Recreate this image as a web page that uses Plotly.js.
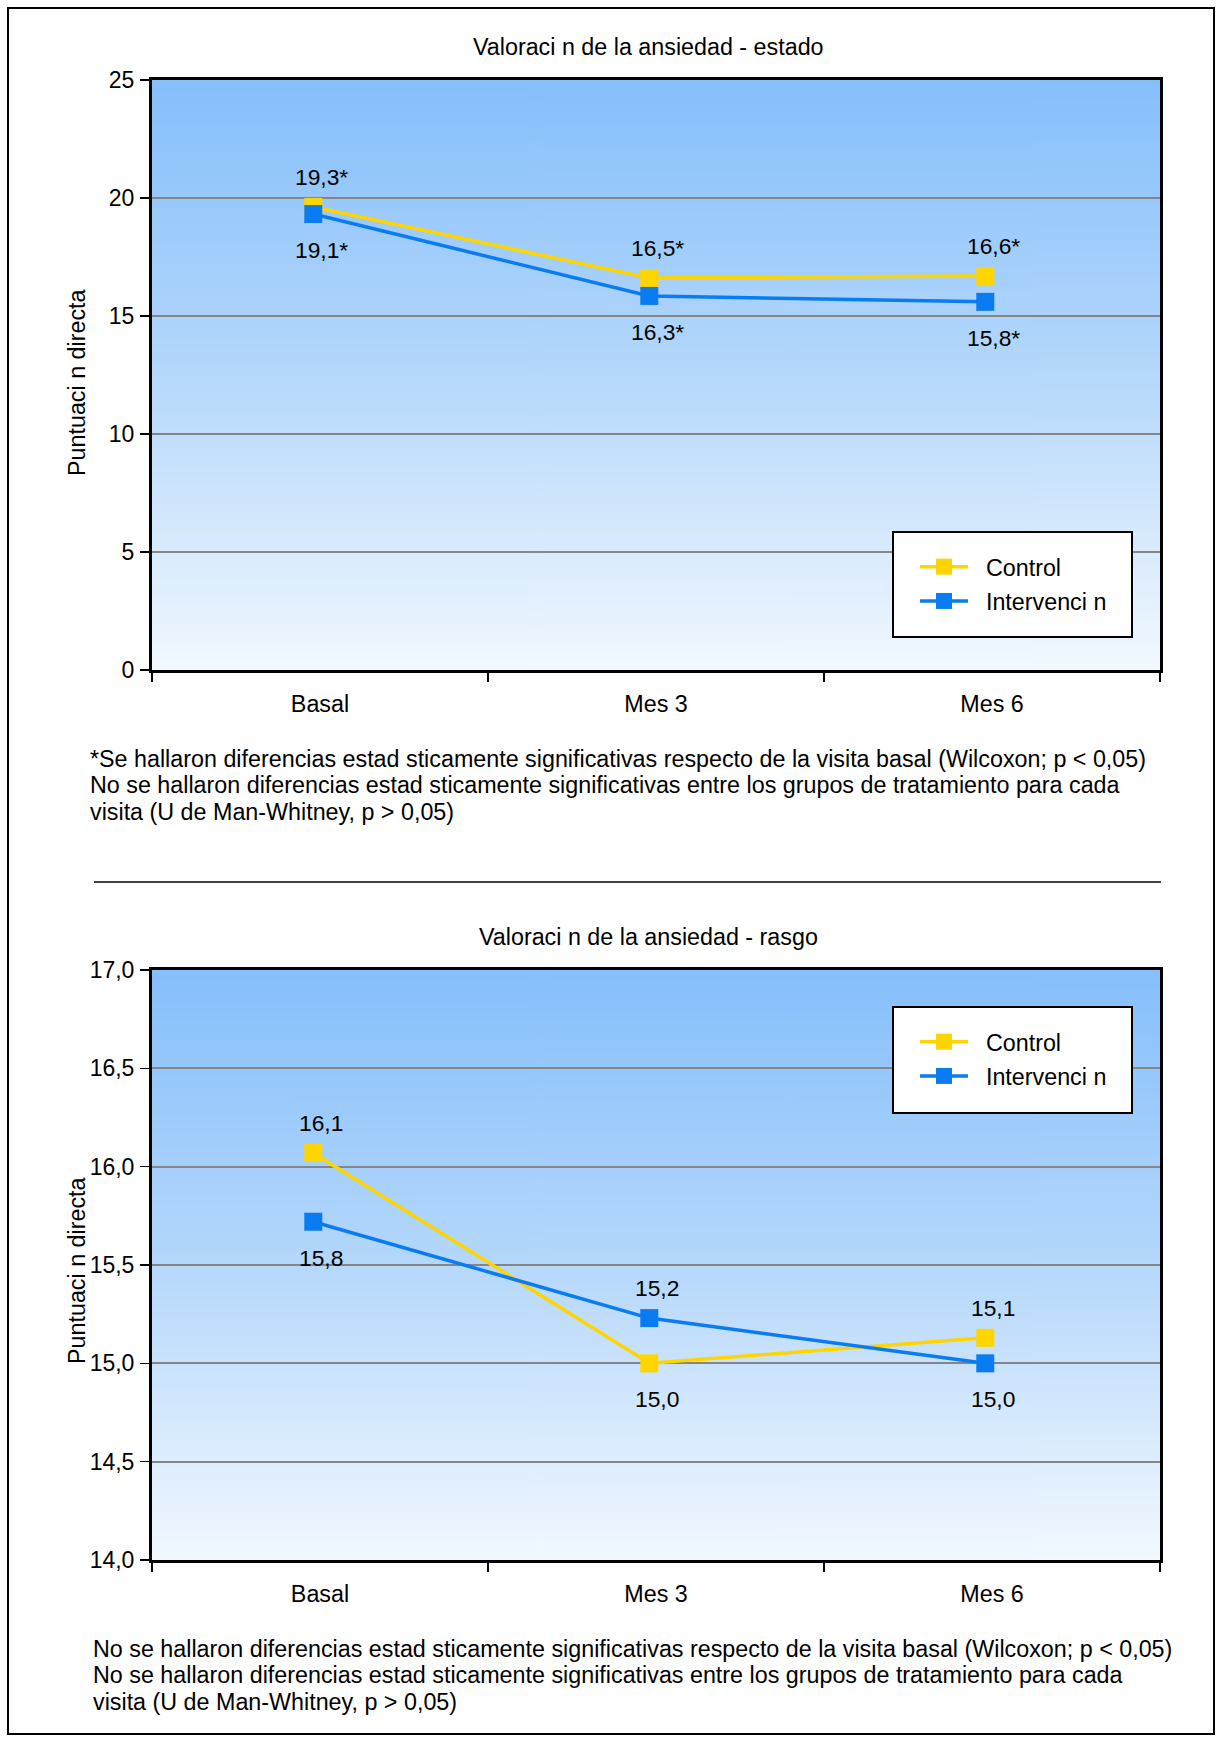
<!DOCTYPE html>
<html>
<head>
<meta charset="utf-8">
<script src="https://cdn.plot.ly/plotly-3.0.1.min.js"></script>
<style>
html,body{margin:0;padding:0;background:#fff;}
#chart{width:1222px;height:1740px;}
</style>
</head>
<body>
<div id="chart"></div>
<script>
// ---------------- DATA ----------------
const categories = ['Basal', 'Mes 3', 'Mes 6'];
const seriesNames = ['Control', 'Intervenci n'];

// Valoración de la ansiedad - estado
const estadoControl = [19.62, 16.61, 16.69];
const estadoIntervencion = [19.32, 15.85, 15.60];
const estadoControlLabels = ['19,3*', '16,5*', '16,6*'];
const estadoIntervencionLabels = ['19,1*', '16,3*', '15,8*'];
const estadoTicks = [0, 5, 10, 15, 20, 25];

// Valoración de la ansiedad - rasgo
const rasgoControl = [16.07, 15.00, 15.13];
const rasgoIntervencion = [15.72, 15.23, 15.00];
const rasgoControlLabels = ['16,1', '15,0', '15,1'];
const rasgoIntervencionLabels = ['15,8', '15,2', '15,0'];
const rasgoTicks = [14.0, 14.5, 15.0, 15.5, 16.0, 16.5, 17.0];

const titles = ['Valoraci n de la ansiedad - estado', 'Valoraci n de la ansiedad - rasgo'];
const yTitle = 'Puntuaci n directa';
const notesEstado = [
  '*Se hallaron diferencias estad sticamente significativas respecto de la visita basal (Wilcoxon; p < 0,05)',
  'No se hallaron diferencias estad sticamente significativas entre los grupos de tratamiento para cada',
  'visita (U de Man-Whitney, p > 0,05)'
];
const notesRasgo = [
  'No se hallaron diferencias estad sticamente significativas respecto de la visita basal (Wilcoxon; p < 0,05)',
  'No se hallaron diferencias estad sticamente significativas entre los grupos de tratamiento para cada',
  'visita (U de Man-Whitney, p > 0,05)'
];

// ---------------- STYLE ----------------
const W = 1222, H = 1740;
const FONT = 'Liberation Sans, Arial, Helvetica, sans-serif';
const FS = 23.3;
const colControl = '#ffd500';
const colInterv = '#0a7cf2';
const px = v => v / W;           // x pixel -> paper
const py = v => 1 - v / H;       // y pixel -> paper

const plotL = 152, plotR = 1160;
const top1 = 80, bot1 = 670;
const top2 = 970, bot2 = 1560;

function gradientURL() {
  const c = document.createElement('canvas');
  c.width = 4; c.height = 512;
  const g = c.getContext('2d');
  const gr = g.createLinearGradient(0, 0, 0, 512);
  gr.addColorStop(0, 'rgb(134,191,251)');
  gr.addColorStop(0.5, 'rgb(181,216,251)');
  gr.addColorStop(1, 'rgb(242,248,255)');
  g.fillStyle = gr;
  g.fillRect(0, 0, 4, 512);
  return c.toDataURL('image/png');
}
const grad = gradientURL();

const legendPad = '\u00a0\u00a0';
function trace(name, y, color, xa, ya, legend) {
  return {
    type: 'scatter', mode: 'lines+markers', name: legendPad + name,
    x: categories, y: y, xaxis: xa, yaxis: ya,
    legend: legend, legendgroup: legend + name, showlegend: true,
    line: {color: color, width: 3.5},
    marker: {symbol: 'square', size: 18, color: color},
    hoverinfo: 'skip'
  };
}

const data = [
  trace(seriesNames[0], estadoControl, colControl, 'x3', 'y', 'legend'),
  trace(seriesNames[1], estadoIntervencion, colInterv, 'x3', 'y', 'legend'),
  trace(seriesNames[0], rasgoControl, colControl, 'x4', 'y2', 'legend2'),
  trace(seriesNames[1], rasgoIntervencion, colInterv, 'x4', 'y2', 'legend2')
];

const annotations = [];
const labelFont = {size: FS - 0.5, color: '#000', family: FONT};
function addLabels(ctrl, intv, ctrlLab, intvLab, xref, yref) {
  categories.forEach((c, i) => {
    const ctrlAbove = ctrl[i] >= intv[i];
    annotations.push({x: c, y: ctrl[i], xref: xref, yref: yref, text: ctrlLab[i], showarrow: false,
      xanchor: 'center', yanchor: 'middle',
      yshift: ctrlAbove ? 30 : -36, xshift: 1, font: labelFont});
    annotations.push({x: c, y: intv[i], xref: xref, yref: yref, text: intvLab[i], showarrow: false,
      xanchor: 'center', yanchor: 'middle',
      yshift: ctrlAbove ? -36 : 30, xshift: 1, font: labelFont});
  });
}
addLabels(estadoControl, estadoIntervencion, estadoControlLabels, estadoIntervencionLabels, 'x', 'y');
addLabels(rasgoControl, rasgoIntervencion, rasgoControlLabels, rasgoIntervencionLabels, 'x2', 'y2');

const txtFont = {size: FS, family: FONT, color: '#000'};
function paperText(x, y, text, opts) {
  annotations.push(Object.assign({x: px(x), y: py(y), xref: 'paper', yref: 'paper', text: text,
    showarrow: false, xanchor: 'center', yanchor: 'middle', font: txtFont}, opts || {}));
}
// titles
paperText(649, 47, titles[0]);
paperText(649, 937, titles[1]);
// y titles
paperText(77, 383, yTitle, {textangle: -90});
paperText(77, 1271, yTitle, {textangle: -90});
// notes
notesEstado.forEach((t, i) => paperText(88, 759 + i * 26.3, t, {xanchor: 'left'}));
notesRasgo.forEach((t, i) => paperText(91, 1649 + i * 26.3, t, {xanchor: 'left'}));

const shapes = [
  {type: 'rect', xref: 'paper', yref: 'paper', x0: px(8), x1: px(1214), y0: py(1734), y1: py(8),
   line: {color: '#000', width: 2}, fillcolor: 'rgba(0,0,0,0)'},
  {type: 'line', xref: 'paper', yref: 'paper', x0: px(94), x1: px(1161), y0: py(882), y1: py(882),
   line: {color: '#000', width: 1.5}},
  {type: 'rect', xref: 'paper', yref: 'paper', x0: px(893), x1: px(1132), y0: py(637), y1: py(532),
   line: {color: '#000', width: 2}, fillcolor: '#fff', layer: 'above'},
  {type: 'rect', xref: 'paper', yref: 'paper', x0: px(893), x1: px(1132), y0: py(1113), y1: py(1007),
   line: {color: '#000', width: 2}, fillcolor: '#fff', layer: 'above'}
];

const images = [
  {source: grad, xref: 'paper', yref: 'paper', x: px(plotL), y: py(top1), sizex: px(plotR) - px(plotL),
   sizey: (bot1 - top1) / H, sizing: 'stretch', xanchor: 'left', yanchor: 'top', layer: 'below'},
  {source: grad, xref: 'paper', yref: 'paper', x: px(plotL), y: py(top2), sizex: px(plotR) - px(plotL),
   sizey: (bot2 - top2) / H, sizing: 'stretch', xanchor: 'left', yanchor: 'top', layer: 'below'}
];

const xBase = {
  type: 'category', categoryarray: categories, range: [-0.5, 2.5],
  showline: true, linecolor: '#000', linewidth: 3, mirror: true,
  ticks: 'outside', tickson: 'boundaries', ticklen: 9, tickwidth: 1.5, tickcolor: '#000',
  showgrid: false, zeroline: false, ticklabelstandoff: 11,
  tickfont: txtFont, fixedrange: true
};
const yBase = {
  showline: true, linecolor: '#000', linewidth: 3, mirror: true,
  ticks: 'outside', ticklen: 9, tickwidth: 1.5, tickcolor: '#000',
  showgrid: true, gridcolor: '#858585', gridwidth: 2, zeroline: false,
  tickfont: {size: FS - 0.3, family: FONT, color: '#000'}, ticklabelstandoff: 1, fixedrange: true
};
const overlayX = {
  type: 'category', categoryarray: categories, range: [-0.48, 2.52], visible: false,
  showgrid: false, zeroline: false, fixedrange: true
};

const legendBase = {
  bgcolor: 'rgba(0,0,0,0)', borderwidth: 0, font: txtFont,
  itemwidth: 48, tracegroupgap: 1, xanchor: 'left', yanchor: 'top', itemclick: false, itemdoubleclick: false
};

const layout = {
  width: W, height: H, margin: {l: 0, r: 0, t: 0, b: 0},
  paper_bgcolor: '#fff', plot_bgcolor: 'rgba(0,0,0,0)',
  separators: ',.', showlegend: true, font: {family: FONT, color: '#000'},
  xaxis: Object.assign({}, xBase, {domain: [px(plotL), px(plotR)], anchor: 'y'}),
  yaxis: Object.assign({}, yBase, {domain: [py(bot1), py(top1)], anchor: 'x', range: [0, 25],
    tickvals: estadoTicks, ticktext: estadoTicks.map(String)}),
  xaxis2: Object.assign({}, xBase, {domain: [px(plotL), px(plotR)], anchor: 'y2'}),
  yaxis2: Object.assign({}, yBase, {domain: [py(bot2), py(top2)], anchor: 'x2', range: [14, 17],
    tickvals: rasgoTicks, ticktext: rasgoTicks.map(v => v.toFixed(1).replace('.', ','))}),
  xaxis3: Object.assign({}, overlayX, {overlaying: 'x', anchor: 'y'}),
  xaxis4: Object.assign({}, overlayX, {overlaying: 'x2', anchor: 'y2'}),
  legend: Object.assign({}, legendBase, {x: px(915), y: py(545)}),
  legend2: Object.assign({}, legendBase, {x: px(915), y: py(1020)}),
  annotations: annotations, shapes: shapes, images: images
};

Plotly.newPlot('chart', data, layout, {displayModeBar: false, staticPlot: true});
</script>
</body>
</html>
